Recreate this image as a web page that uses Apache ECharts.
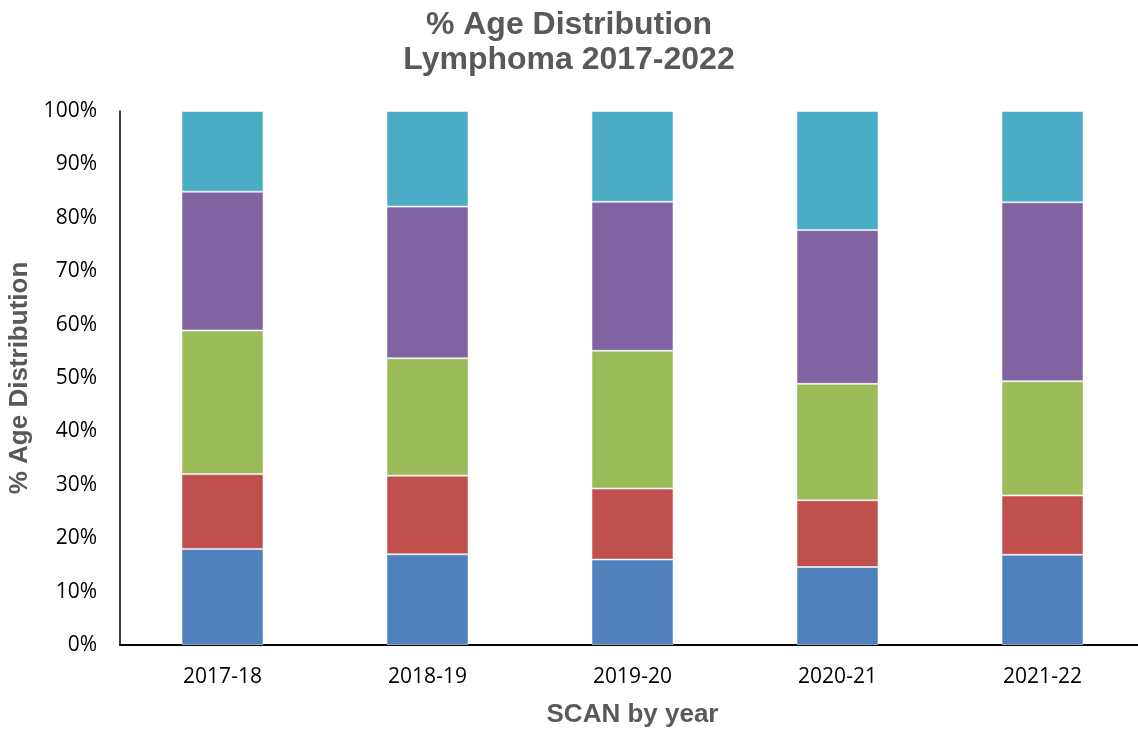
<!DOCTYPE html>
<html>
<head>
<meta charset="utf-8">
<script src="https://cdn.jsdelivr.net/npm/echarts@6/dist/echarts.min.js"></script>
<style>
  html, body { margin: 0; padding: 0; background: #ffffff; }
  #chart { width: 1138px; height: 732px; }
</style>
</head>
<body>
<div id="chart"></div>
<script>
// Financial years on the x axis
const years = ['2017-18', '2018-19', '2019-20', '2020-21', '2021-22'];

// Share of patients per age band (%), stacked bottom to top
const band1 = [18.0, 17.0, 16.0, 14.6, 16.9];
const band2 = [14.0, 14.7, 13.3, 12.5, 11.1];
const band3 = [26.9, 22.0, 25.8, 21.8, 21.4];
const band4 = [26.0, 28.4, 27.9, 28.8, 33.5];
const band5 = [15.1, 17.9, 17.0, 22.3, 17.1];

const bands = [
  { name: 'Band 1', data: band1, color: '#4F81BD' },
  { name: 'Band 2', data: band2, color: '#C0504D' },
  { name: 'Band 3', data: band3, color: '#9BBB59' },
  { name: 'Band 4', data: band4, color: '#8064A2' },
  { name: 'Band 5', data: band5, color: '#4BACC6' }
];

const chart = echarts.init(document.getElementById('chart'), null, { renderer: 'canvas' });

chart.setOption({
  animation: false,
  backgroundColor: '#ffffff',
  title: {
    text: '% Age Distribution\nLymphoma 2017-2022',
    left: 'center',
    top: 3,
    padding: [5, 5, 5, 13],
    textStyle: {
      fontFamily: 'Liberation Sans, Arial, sans-serif',
      fontSize: 32,
      fontWeight: 'bold',
      color: '#595959',
      lineHeight: 35
    }
  },
  // the plot runs slightly past the right edge of the page
  grid: {
    left: 120, width: 1025, top: 111, bottom: 87,
    containLabel: false, outerBoundsMode: 'none'
  },
  xAxis: {
    type: 'category',
    data: years,
    name: 'SCAN by year',
    nameLocation: 'middle',
    nameGap: 57,
    nameTextStyle: {
      fontFamily: 'Liberation Sans, Arial, sans-serif',
      fontSize: 26,
      fontWeight: 'bold',
      color: '#595959'
    },
    axisLine: { lineStyle: { color: '#000000', width: 2 } },
    axisTick: { show: false },
    axisLabel: {
      fontFamily: 'Open Sans, sans-serif',
      fontSize: 21,
      color: '#000000',
      margin: 22
    }
  },
  yAxis: {
    type: 'value',
    min: 0,
    max: 100,
    interval: 10,
    name: '% Age Distribution',
    nameLocation: 'middle',
    nameGap: 85,
    nameTextStyle: {
      fontFamily: 'Liberation Sans, Arial, sans-serif',
      fontSize: 26,
      fontWeight: 'bold',
      color: '#595959'
    },
    axisLine: { show: true, lineStyle: { color: '#000000', width: 1.5 } },
    axisTick: { show: false },
    splitLine: { show: false },
    axisLabel: {
      fontFamily: 'Open Sans, sans-serif',
      fontSize: 21,
      color: '#000000',
      margin: 23,
      formatter: v => v + '%'
    }
  },
  series: bands.map(b => ({
    name: b.name,
    type: 'bar',
    stack: 'total',
    barWidth: '40%',
    data: b.data,
    itemStyle: { color: b.color, borderColor: 'rgba(255,255,255,0.5)', borderWidth: 1 }
  }))
});
</script>
</body>
</html>
